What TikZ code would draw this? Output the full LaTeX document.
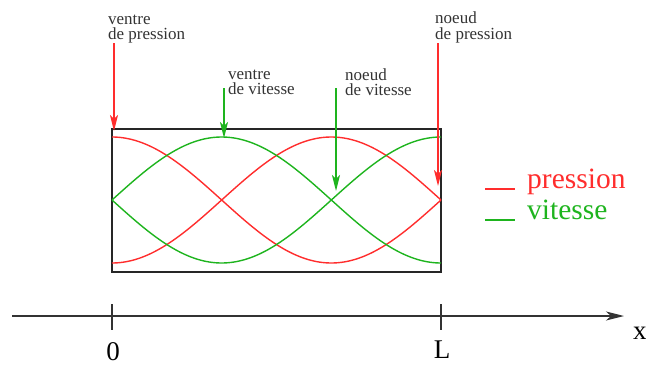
\documentclass[tikz,border=0pt]{standalone}
\usepackage{fontspec}
\setmainfont{Liberation Serif}
\usetikzlibrary{arrows.meta}
\definecolor{pred}{RGB}{255,45,45}
\definecolor{vgreen}{RGB}{30,180,30}
\begin{document}
\begin{tikzpicture}[x=1pt,y=-1pt,
  small/.style={font=\fontsize{17}{15.5}\selectfont, inner sep=0pt, anchor=base west, text=black!80, align=left},
  big/.style={font=\fontsize{27}{27}\selectfont, inner sep=0pt},
  legtext/.style={font=\fontsize{29.5}{29.5}\selectfont, inner sep=0pt, anchor=base west},
  curve/.style={line width=1.4pt},
  pointer/.style={line width=1.4pt, -{Stealth[length=16pt,width=8pt,inset=4pt]}},
  legline/.style={line width=1.4pt}]
\useasboundingbox (0,0) rectangle (646,367);
% labels
\node[small] (l1) at (108,39.5) {ventre\\de pression};
\node[small] (l2) at (228,94.5) {ventre\\de vitesse};
\node[small] (l3) at (345,95.5) {noeud\\de vitesse};
\node[small] (l4) at (435,39) {noeud\\de pression};
% tube
\node[draw=black!85, line width=1.6pt, minimum width=329pt, minimum height=143pt, inner sep=0pt] (tube) at (276.5,200.5) {};
% curves
\draw[pred,curve] plot[domain=112:441, samples=120] (\x, {200-63*cos(0.820669*(\x-112))});
\draw[pred,curve] plot[domain=112:441, samples=120] (\x, {200+63*cos(0.820669*(\x-112))});
\draw[vgreen,curve] plot[domain=112:441, samples=120] (\x, {200-63*sin(0.820669*(\x-112))});
\draw[vgreen,curve] plot[domain=112:441, samples=120] (\x, {200+63*sin(0.820669*(\x-112))});
% pointers
\coordinate (a1s) at (114,43); \coordinate (a1e) at (114,131);
\coordinate (a2s) at (224,88); \coordinate (a2e) at (224,138);
\coordinate (a3s) at (336,88); \coordinate (a3e) at (336,191);
\coordinate (a4s) at (438,43); \coordinate (a4e) at (438,186);
\draw[pred,pointer] (a1s) -- (a1e);
\draw[vgreen,pointer] (a2s) -- (a2e);
\draw[vgreen,pointer] (a3s) -- (a3e);
\draw[pred,pointer] (a4s) -- (a4e);
% legend
\coordinate (lr1) at (485,189); \coordinate (lr2) at (515,189);
\coordinate (lg1) at (485,220); \coordinate (lg2) at (515,220);
\draw[pred,legline] (lr1) -- (lr2);
\draw[vgreen,legline] (lg1) -- (lg2);
\node[legtext, text=pred] (lp) at (527,188) {pression};
\node[legtext, text=vgreen] (lv) at (527,219) {vitesse};
% axis
\coordinate (ax1) at (12,316); \coordinate (ax2) at (624,316);
\draw[black!80, line width=1.6pt, -{Stealth[length=18pt,width=9pt,inset=5pt]}] (ax1) -- (ax2);
\coordinate (t0a) at (112,304); \coordinate (t0b) at (112,330);
\coordinate (tLa) at (441,304); \coordinate (tLb) at (441,330);
\draw[black!80, line width=1.4pt] (t0a) -- (t0b);
\draw[black!80, line width=1.4pt] (tLa) -- (tLb);
\node[big, anchor=base] (n0) at (113,360) {0};
\node[big, anchor=base] (nL) at (442,358) {L};
\node[big, anchor=base west] (nx) at (633,339) {x};
\end{tikzpicture}
\end{document}
